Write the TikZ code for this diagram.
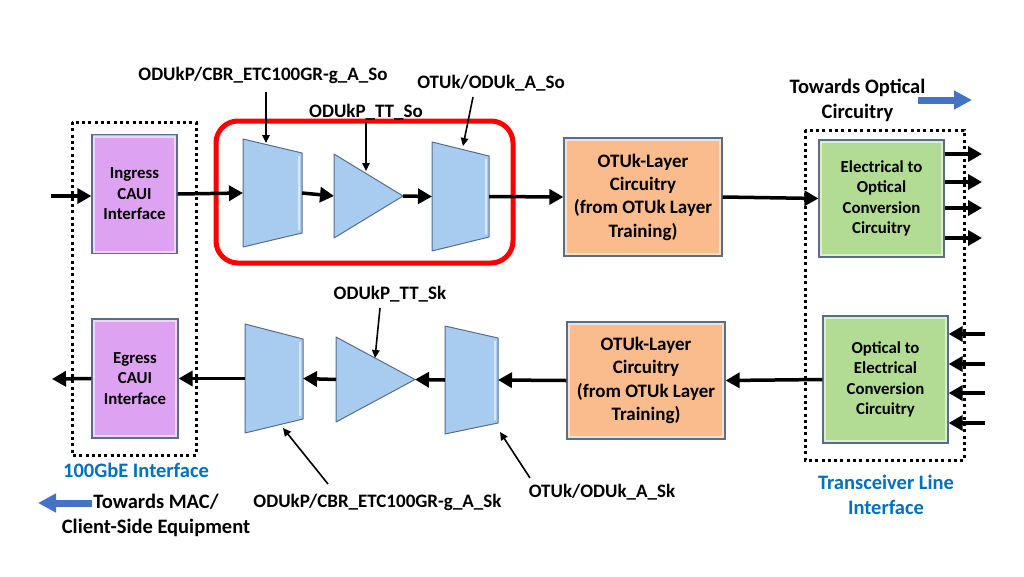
\documentclass[tikz,border=0pt]{standalone}
\usepackage{fontspec}
\setmainfont{Carlito}
\usetikzlibrary{arrows.meta,calc}
\definecolor{purp}{RGB}{222,162,242}
\definecolor{tblue}{RGB}{168,204,240}
\definecolor{orng}{RGB}{250,188,140}
\definecolor{grn}{RGB}{178,219,148}
\definecolor{edgec}{RGB}{88,108,140}
\definecolor{capblue}{RGB}{0,112,192}
\definecolor{arrblue}{RGB}{68,114,196}
\begin{document}
\begin{tikzpicture}[x=1pt,y=-1pt,
  blk/.style={rectangle, draw=edgec, line width=1.2pt, inner sep=0pt, align=center},
  smalltxt/.style={font=\bfseries\fontsize{16.8}{20.5}\selectfont},
  bigtxt/.style={font=\bfseries\fontsize{19}{23.3}\selectfont},
  frame/.style={rectangle, inner sep=0pt, outer sep=0pt},
  shp/.style={fill=tblue, draw=edgec, line width=1pt, line join=round},
  hil/.style={white, opacity=0.55, line width=2pt},
  flow/.style={line width=3.5pt, -{Triangle[length=14pt,width=15pt]}},
  ptr/.style={line width=1.6pt, -{Triangle[length=8pt,width=7.5pt]}},
  lbl/.style={font=\bfseries\fontsize{19}{23}\selectfont, inner sep=0pt},
  captxt/.style={font=\bfseries\fontsize{20.5}{25}\selectfont, align=center, inner sep=0pt},
  dots/.style={line width=3pt, dash pattern=on 3pt off 3.3pt},
  barrow/.style={arrblue, line width=7pt, -{Triangle[length=18pt,width=18pt]}}
]
\useasboundingbox (0,0) rectangle (1024,576);
\fill[white] (0,0) rectangle (1024,576);

% dotted interface frames and red group
\draw[dots] (72,122) rectangle (196,455);
\draw[dots] (805,130) rectangle (964,460);
\draw[red, line width=5pt, rounded corners=22pt] (216,121) rectangle (513,263);

% boxes
\node[blk, smalltxt, fill=purp, minimum width=85pt, minimum height=119pt] (ing) at (134.5,194) {Ingress\\CAUI\\Interface};
\node[blk, smalltxt, fill=purp, minimum width=86pt, minimum height=119pt] (egr) at (135,378.5) {Egress\\CAUI\\Interface};
\node[blk, bigtxt, fill=orng, minimum width=158pt, minimum height=118pt] (otu1) at (643,197) {OTUk-Layer\\Circuitry\\(from OTUk Layer\\Training)};
\node[blk, bigtxt, fill=orng, minimum width=158pt, minimum height=117pt] (otu2) at (646,380.5) {OTUk-Layer\\Circuitry\\(from OTUk Layer\\Training)};
\node[blk, smalltxt, fill=grn, minimum width=125pt, minimum height=117pt] (eo) at (881.5,198.5) {Electrical to\\Optical\\Conversion\\Circuitry};
\node[blk, smalltxt, fill=grn, minimum width=125pt, minimum height=127pt] (oe) at (885.5,379.5) {Optical to\\Electrical\\Conversion\\Circuitry};
\foreach \b in {ing,egr,otu1,otu2,eo,oe} {
  \draw[hil] ([shift={(2.6pt,-2.6pt)}]\b.north west) rectangle ([shift={(-2.6pt,2.6pt)}]\b.south east);
}

% adaptation / termination shapes (frames)
\node[frame, minimum width=59pt, minimum height=108pt] (t1) at (272.5,193) {};
\node[frame, minimum width=69pt, minimum height=84pt] (tr1) at (368.5,196) {};
\node[frame, minimum width=57pt, minimum height=109pt] (t3) at (460.5,196.5) {};
\node[frame, minimum width=58pt, minimum height=109pt] (s1) at (274,378.5) {};
\node[frame, minimum width=79pt, minimum height=85pt] (tr2) at (375.5,379.5) {};
\node[frame, minimum width=53pt, minimum height=108pt] (s3) at (471.5,380) {};

\draw[shp] (t1.north west) -- ([yshift=-14pt]t1.north east) -- ([yshift=14pt]t1.south east) -- (t1.south west) -- cycle;
\draw[shp] (tr1.north west) -- (tr1.east) -- (tr1.south west) -- cycle;
\draw[shp] (t3.north west) -- ([yshift=-14pt]t3.north east) -- ([yshift=14pt]t3.south east) -- (t3.south west) -- cycle;
\draw[shp] (s1.north west) -- ([yshift=-15pt]s1.north east) -- ([yshift=14pt]s1.south east) -- (s1.south west) -- cycle;
\draw[shp] (tr2.north west) -- (tr2.east) -- (tr2.south west) -- cycle;
\draw[shp] (s3.north west) -- ([yshift=-12pt]s3.north east) -- ([yshift=11pt]s3.south east) -- (s3.south west) -- cycle;
% bevel highlights on the right edges of the trapezia
\draw[hil] ([shift={(-3pt,-17pt)}]t1.north east) -- ([shift={(-3pt,17pt)}]t1.south east);
\draw[hil] ([shift={(-3pt,-17pt)}]t3.north east) -- ([shift={(-3pt,17pt)}]t3.south east);
\draw[hil] ([shift={(-3pt,-18pt)}]s1.north east) -- ([shift={(-3pt,17pt)}]s1.south east);
\draw[hil] ([shift={(-3pt,-15pt)}]s3.north east) -- ([shift={(-3pt,14pt)}]s3.south east);

% free ends
\coordinate (in0) at (51,196);
\coordinate (out0) at (52,379);
\foreach \i/\y in {1/154,2/182,3/208,4/238} { \coordinate (oo\i) at (982,\y); }
\foreach \i/\y in {1/334,2/364,3/393,4/423} { \coordinate (ii\i) at (985,\y); }

% flow connectors, top row
\draw[flow] (in0) -- (ing.west |- in0);
\draw[flow] (ing.east) -- (t1.west);
\draw[flow] (t1.east) -- (tr1.west);
\draw[flow] (tr1.east) -- (t3.west);
\draw[flow] (t3.east) -- (otu1.west);
\draw[flow] (otu1.east) -- (eo.west);
\foreach \i in {1,...,4} { \draw[flow] (eo.east |- oo\i) -- (oo\i); }

% flow connectors, bottom row
\foreach \i in {1,...,4} { \draw[flow] (ii\i) -- (oe.east |- ii\i); }
\draw[flow] (oe.west) -- (otu2.east);
\draw[flow] (otu2.west) -- (s3.east);
\draw[flow] (s3.west) -- (tr2.east);
\draw[flow] (tr2.west) -- (s1.east);
\draw[flow] (s1.west) -- (egr.east);
\draw[flow] (egr.west) -- (out0);

% labels
\node[lbl] (l1) at (263,75) {ODUkP/CBR\_ETC100GR-g\_A\_So};
\node[lbl] (l2) at (366,112) {ODUkP\_TT\_So};
\node[lbl] (l3) at (491,83) {OTUk/ODUk\_A\_So};
\node[lbl] (l4) at (390,294) {ODUkP\_TT\_Sk};
\node[lbl] (l5) at (377.5,502) {ODUkP/CBR\_ETC100GR-g\_A\_Sk};
\node[lbl] (l6) at (602,492) {OTUk/ODUk\_A\_Sk};

\coordinate (p1) at (266,143);
\coordinate (p2) at (366,171);
\coordinate (p3) at (463,146);
\coordinate (p4) at (375,358);
\coordinate (p5) at (283,428);
\coordinate (p6) at (500,432);
\coordinate (q3) at (473,97);
\coordinate (q4) at (380,308);
\coordinate (q5) at (328,484);
\coordinate (q6) at (530,478);
\draw[ptr] ([yshift=-9pt]l1.south -| p1) -- (p1);
\draw[ptr] ([yshift=-2pt]l2.south -| p2) -- (p2);
\draw[ptr] (q3) -- (p3);
\draw[ptr] (q4) -- (p4);
\draw[ptr] (q5) -- (p5);
\draw[ptr] (q6) -- (p6);

% captions
\node[captxt] (c1) at (857.5,100.5) {Towards Optical\\Circuitry};
\node[captxt, text=capblue] (c2) at (136,470) {100GbE Interface};
\node[captxt, text=capblue] (c3) at (886,495) {Transceiver Line\\Interface};
\node[captxt] (c4) at (156,515.5) {Towards MAC/\\Client-Side Equipment};

% blue direction arrows
\coordinate (b1s) at (918,100);
\coordinate (b1e) at (972,100);
\coordinate (b2s) at (92,503);
\coordinate (b2e) at (38,503);
\draw[barrow] (b1s) -- (b1e);
\draw[barrow] (b2s) -- (b2e);
\end{tikzpicture}
\end{document}
